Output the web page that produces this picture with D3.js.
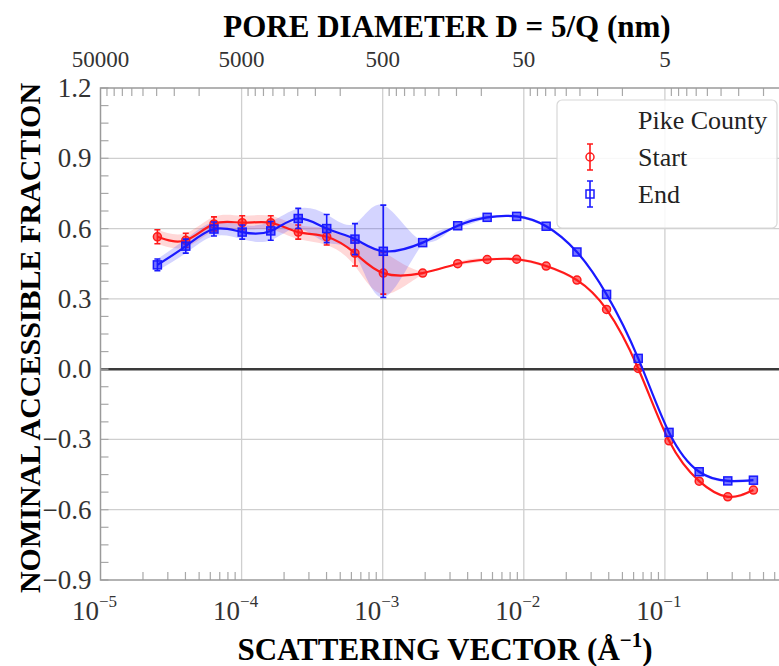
<!DOCTYPE html>
<html>
<head>
<meta charset="utf-8">
<script src="https://cdn.jsdelivr.net/npm/d3@7"></script>
<style>
  body { margin: 0; background: #fff; }
  svg text { font-family: "Liberation Serif", "DejaVu Serif", serif; }
</style>
</head>
<body>
<svg id="chart" width="779" height="666" font-family="Liberation Serif, DejaVu Serif, serif"></svg>
<script>
// scattering vector Q (1/A)
const qValues = [2.53e-5, 4.02e-5, 6.37e-5, 1.01e-4, 1.61e-4, 2.52e-4, 4.01e-4, 6.36e-4, 1.01e-3,
    1.92e-3, 3.4e-3, 5.5e-3, 8.9e-3, 1.44e-2, 2.38e-2, 3.86e-2, 6.47e-2, 0.107, 0.175, 0.279, 0.424];
const startVals = [0.565, 0.55, 0.62, 0.625, 0.625, 0.585, 0.565, 0.495, 0.41,
    0.41, 0.45, 0.468, 0.469, 0.44, 0.38, 0.255, 0.003, -0.306, -0.478, -0.545, -0.516];
const startErr = [0.03, 0.03, 0.03, 0.03, 0.03, 0.03, 0.035, 0.055, 0.09,
    0.006, 0.006, 0.006, 0.006, 0.006, 0.006, 0.006, 0.006, 0.006, 0.006, 0.006, 0.006];
const endVals = [0.445, 0.525, 0.598, 0.585, 0.59, 0.643, 0.6, 0.555, 0.503,
    0.54, 0.612, 0.648, 0.652, 0.61, 0.5, 0.319, 0.046, -0.27, -0.438, -0.477, -0.474];
const endErr = [0.025, 0.03, 0.03, 0.03, 0.04, 0.043, 0.06, 0.066, 0.197,
    0.006, 0.006, 0.006, 0.006, 0.006, 0.006, 0.006, 0.006, 0.006, 0.006, 0.006, 0.006];

const yTicks = [-0.9, -0.6, -0.3, 0.0, 0.3, 0.6, 0.9, 1.2];
const xDecades = [1e-5, 1e-4, 1e-3, 1e-2, 1e-1];
const xExps = ['\u22125', '\u22124', '\u22123', '\u22122', '\u22121'];
const topLabels = ['50000', '5000', '500', '50', '5'];

const svg = d3.select('#chart');
const plotLeft = 100.5, plotTop = 88, plotBottom = 580;

const x = d3.scaleLog().domain([1e-5, 1]).range([plotLeft, plotLeft + 5 * 141.1]);
const y = d3.scaleLinear().domain([-0.9, 1.2]).range([plotBottom, plotTop]);
const plotRight = x.range()[1];

// grid
const g = svg.append('g');
g.selectAll('line.vg')
    .data(xDecades.slice(1))
    .join('line')
    .attr('x1', d => x(d)).attr('x2', d => x(d))
    .attr('y1', plotTop).attr('y2', plotBottom)
    .attr('stroke', '#cfcfcf').attr('stroke-width', 1.3);
g.selectAll('line.hg')
    .data(yTicks.filter(d => d > -0.9 && d < 1.2 && d !== 0))
    .join('line')
    .attr('x1', plotLeft).attr('x2', plotRight)
    .attr('y1', d => y(d)).attr('y2', d => y(d))
    .attr('stroke', '#cfcfcf').attr('stroke-width', 1.3);

// zero line
g.append('line')
    .attr('x1', plotLeft).attr('x2', plotRight)
    .attr('y1', y(0)).attr('y2', y(0))
    .attr('stroke', '#3a3a3a').attr('stroke-width', 2.5);

// ticks
let minorQ = [], topMinor = [];
for (let e = -5; e < 0; e++) {
    for (let k = 2; k <= 9; k++) {
        minorQ.push(k * Math.pow(10, e));
        topMinor.push(Math.pow(10, e + 1) / k);
    }
}
const tickColor = '#a8a8a8';
g.selectAll('line.bt')
    .data(minorQ)
    .join('line')
    .attr('x1', d => x(d)).attr('x2', d => x(d))
    .attr('y1', plotBottom).attr('y2', plotBottom - 8)
    .attr('stroke', tickColor).attr('stroke-width', 1.2);
g.selectAll('line.tt')
    .data(topMinor)
    .join('line')
    .attr('x1', d => x(d)).attr('x2', d => x(d))
    .attr('y1', plotTop).attr('y2', plotTop + 8)
    .attr('stroke', tickColor).attr('stroke-width', 1.2);
let yMinor = d3.range(-0.9, 1.2001, 0.075);
g.selectAll('line.lt')
    .data(yMinor)
    .join('line')
    .attr('x1', plotLeft).attr('x2', plotLeft + 8)
    .attr('y1', d => y(d)).attr('y2', d => y(d))
    .attr('stroke', tickColor).attr('stroke-width', 1.2);

// spines
g.append('path')
    .attr('d', `M${plotRight},${plotTop}H${plotLeft}V${plotBottom}H${plotRight}`)
    .attr('fill', 'none').attr('stroke', '#9a9a9a').attr('stroke-width', 1.5);

// tick labels
svg.append('g').selectAll('text')
    .data(yTicks)
    .join('text')
    .attr('x', plotLeft - 9).attr('y', d => y(d) + 9)
    .attr('text-anchor', 'end')
    .attr('font-size', 27).attr('fill', '#333')
    .text(d => (d < 0 ? '\u2212' : '') + Math.abs(d).toFixed(1));

const xl = svg.append('g').selectAll('text')
    .data(xDecades)
    .join('text')
    .attr('x', d => x(d) - 6).attr('y', 620)
    .attr('text-anchor', 'middle')
    .attr('font-size', 27).attr('fill', '#333');
xl.append('tspan').text('10');
xl.append('tspan').attr('dy', -13).attr('font-size', 17).text((d, i) => xExps[i]);

svg.append('g').selectAll('text')
    .data(xDecades)
    .join('text')
    .attr('x', d => x(d)).attr('y', 67)
    .attr('text-anchor', 'middle')
    .attr('font-size', 23).attr('fill', '#333')
    .text((d, i) => topLabels[i]);

// titles
svg.append('text')
    .attr('x', 447).attr('y', 37)
    .attr('text-anchor', 'middle')
    .attr('font-size', 31).attr('font-weight', 'bold')
    .text('PORE DIAMETER D = 5/Q (nm)');
const xt = svg.append('text')
    .attr('x', 445).attr('y', 660)
    .attr('text-anchor', 'middle')
    .attr('font-size', 31).attr('font-weight', 'bold');
xt.append('tspan').text('SCATTERING VECTOR (\u00c5');
xt.append('tspan').attr('dy', -13).attr('font-size', 21).text('\u22121');
xt.append('tspan').attr('dy', 13).text(')');
svg.append('text')
    .attr('transform', 'translate(40,338) rotate(-90)')
    .attr('text-anchor', 'middle')
    .attr('font-size', 30).attr('font-weight', 'bold')
    .text('NOMINAL ACCESSIBLE FRACTION');

// series
const series = [
    { name: 'Start', vals: startVals, err: startErr, color: '#ff1a1a', fill: 'rgba(255,60,60,0.2)', shape: 'circle' },
    { name: 'End', vals: endVals, err: endErr, color: '#1a1aff', fill: 'rgba(60,60,255,0.22)', shape: 'square' }
];

const plot = svg.append('g');
series.forEach(s => {
    const pts = qValues.map((q, i) => ({ q, v: s.vals[i], e: s.err[i] }));
    plot.append('path')
        .datum(pts)
        .attr('d', d3.area().curve(d3.curveNatural)
            .x(d => x(d.q)).y0(d => y(d.v - d.e)).y1(d => y(d.v + d.e)))
        .attr('fill', s.fill);
});
series.forEach(s => {
    const pts = qValues.map((q, i) => ({ q, v: s.vals[i], e: s.err[i] }));
    const c = plot.append('g');
    c.append('path')
        .datum(pts)
        .attr('d', d3.line().curve(d3.curveNatural).x(d => x(d.q)).y(d => y(d.v)))
        .attr('fill', 'none').attr('stroke', s.color).attr('stroke-width', 2.2);
    const big = pts.filter(d => d.e > 0.01);
    c.selectAll('path.eb')
        .data(big)
        .join('path')
        .attr('d', d => {
            const xx = x(d.q), y0 = y(d.v - d.e), y1 = y(d.v + d.e);
            return `M${xx},${y0}V${y1}M${xx - 3},${y0}h6M${xx - 3},${y1}h6`;
        })
        .attr('stroke', s.color).attr('stroke-width', 1.6).attr('fill', 'none');
    if (s.shape === 'circle') {
        c.selectAll('circle')
            .data(pts)
            .join('circle')
            .attr('cx', d => x(d.q)).attr('cy', d => y(d.v)).attr('r', 4)
            .attr('fill', s.color).attr('fill-opacity', 0.6)
            .attr('stroke', s.color).attr('stroke-width', 1.5);
    } else {
        c.selectAll('rect')
            .data(pts)
            .join('rect')
            .attr('x', d => x(d.q) - 4).attr('y', d => y(d.v) - 4)
            .attr('width', 8).attr('height', 8)
            .attr('fill', s.color).attr('fill-opacity', 0.6)
            .attr('stroke', s.color).attr('stroke-width', 1.5);
    }
});

// legend
const lg = svg.append('g');
lg.append('rect')
    .attr('x', 557).attr('y', 100).attr('width', 220).attr('height', 128).attr('rx', 5)
    .attr('fill', 'rgba(255,255,255,0.85)').attr('stroke', '#d8d8d8').attr('stroke-width', 1.2);
lg.append('text').attr('x', 638).attr('y', 129).attr('font-size', 26).attr('fill', '#222').text('Pike County');
series.forEach((s, i) => {
    const cy = 157 + i * 37;
    lg.append('path')
        .attr('d', `M590,${cy - 13}V${cy + 13}M587,${cy - 13}h6M587,${cy + 13}h6`)
        .attr('stroke', s.color).attr('stroke-width', 1.6);
    if (s.shape === 'circle') {
        lg.append('circle').attr('cx', 590).attr('cy', cy).attr('r', 4)
            .attr('fill', 'none').attr('stroke', s.color).attr('stroke-width', 1.5);
    } else {
        lg.append('rect').attr('x', 586).attr('y', cy - 4).attr('width', 8).attr('height', 8)
            .attr('fill', 'none').attr('stroke', s.color).attr('stroke-width', 1.5);
    }
    lg.append('text').attr('x', 638).attr('y', cy + 9).attr('font-size', 26).attr('fill', '#222').text(s.name);
});
</script>
</body>
</html>
